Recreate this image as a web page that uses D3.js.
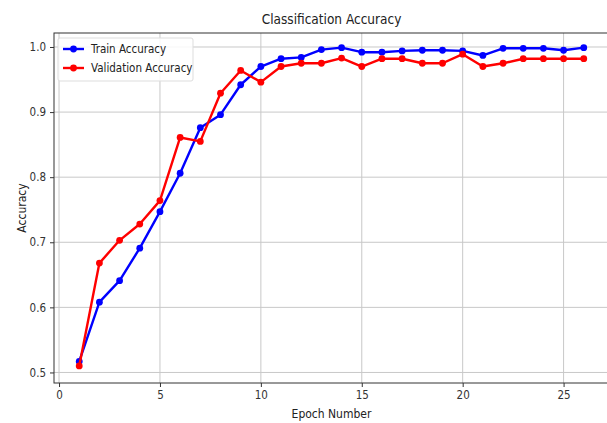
<!DOCTYPE html>
<html>
<head>
<meta charset="utf-8">
<script src="https://cdn.jsdelivr.net/npm/d3@7"></script>
<style>
  body { margin: 0; background: #fff; }
  svg { display: block; font-family: "DejaVu Sans Condensed", "DejaVu Sans", sans-serif; }
</style>
</head>
<body>
<div id="chart"></div>
<script>
// Data
const epochs = d3.range(1, 27);
const trainAcc = [0.517, 0.608, 0.641, 0.691, 0.747, 0.806, 0.876, 0.896, 0.942, 0.970,
                  0.982, 0.984, 0.996, 0.999, 0.992, 0.992, 0.994, 0.995, 0.995, 0.994,
                  0.987, 0.998, 0.998, 0.998, 0.995, 0.999];
const valAcc = [0.510, 0.668, 0.703, 0.728, 0.764, 0.861, 0.855, 0.929, 0.964, 0.946,
                0.970, 0.975, 0.975, 0.983, 0.970, 0.982, 0.982, 0.975, 0.975, 0.989,
                0.970, 0.975, 0.982, 0.982, 0.982, 0.982];
const xTicks = [0, 5, 10, 15, 20, 25];
const yTicks = [0.5, 0.6, 0.7, 0.8, 0.9, 1.0];

const width = 607, height = 423;
const margin = { top: 33, right: -2, bottom: 40, left: 54 };
const font = "DejaVu Sans Condensed, DejaVu Sans, sans-serif";

const svg = d3.select("#chart")
  .append("svg")
  .attr("width", width)
  .attr("height", height);

const x = d3.scaleLinear()
  .domain([-0.25, 27.25])
  .range([margin.left, width - margin.right]);

const y = d3.scaleLinear()
  .domain([0.4838, 1.0215])
  .range([height - margin.bottom, margin.top]);

// grid
svg.append("g")
  .selectAll("line")
  .data(xTicks)
  .join("line")
    .attr("x1", d => x(d)).attr("x2", d => x(d))
    .attr("y1", margin.top).attr("y2", height - margin.bottom)
    .attr("stroke", "#c8c8c8").attr("stroke-width", 1);

svg.append("g")
  .selectAll("line")
  .data(yTicks)
  .join("line")
    .attr("x1", margin.left).attr("x2", width - margin.right)
    .attr("y1", d => y(d)).attr("y2", d => y(d))
    .attr("stroke", "#c8c8c8").attr("stroke-width", 1);

// axes
const xAxis = svg.append("g")
  .attr("transform", `translate(0,${height - margin.bottom})`)
  .call(d3.axisBottom(x).tickValues(xTicks).tickSize(4).tickPadding(4).tickFormat(d3.format("d")));

const yAxis = svg.append("g")
  .attr("transform", `translate(${margin.left},0)`)
  .call(d3.axisLeft(y).tickValues(yTicks).tickSize(4).tickPadding(4).tickFormat(d3.format(".1f")));

[xAxis, yAxis].forEach(g => {
  g.select(".domain").remove();
  g.selectAll("line").attr("stroke", "#333");
  g.selectAll("text").attr("font-size", "11.5px").attr("fill", "#333")
    .attr("font-family", font);
});

// spines
svg.append("rect")
  .attr("x", margin.left).attr("y", margin.top)
  .attr("width", x.range()[1] - margin.left)
  .attr("height", height - margin.bottom - margin.top)
  .attr("fill", "none").attr("stroke", "#333").attr("stroke-width", 1);

// lines
const series = [
  { name: "Train Accuracy", values: trainAcc, color: "#0000ff" },
  { name: "Validation Accuracy", values: valAcc, color: "#ff0000" }
];

const line = d3.line()
  .x((d, i) => x(epochs[i]))
  .y(d => y(d));

series.forEach(s => {
  svg.append("path")
    .datum(s.values)
    .attr("fill", "none")
    .attr("stroke", s.color)
    .attr("stroke-width", 2.4)
    .attr("stroke-linejoin", "round")
    .attr("d", line);

  svg.append("g")
    .selectAll("circle")
    .data(s.values)
    .join("circle")
      .attr("cx", (d, i) => x(epochs[i]))
      .attr("cy", d => y(d))
      .attr("r", 3.4)
      .attr("fill", s.color);
});

// legend
const legend = svg.append("g").attr("transform", "translate(58,38)");
legend.append("rect")
  .attr("width", 135).attr("height", 43).attr("rx", 2)
  .attr("fill", "#fff").attr("fill-opacity", 0.85)
  .attr("stroke", "#ddd");

series.forEach((s, i) => {
  const gy = 11 + i * 19;
  legend.append("line")
    .attr("x1", 5).attr("x2", 26).attr("y1", gy).attr("y2", gy)
    .attr("stroke", s.color).attr("stroke-width", 2.4);
  legend.append("circle")
    .attr("cx", 15.5).attr("cy", gy).attr("r", 3.4).attr("fill", s.color);
  legend.append("text")
    .attr("x", 33).attr("y", gy).attr("dy", "0.35em")
    .attr("font-size", "11.5px").attr("fill", "#222")
    .text(s.name);
});

// title and axis labels
svg.append("text")
  .attr("x", (margin.left + x.range()[1]) / 2).attr("y", 24)
  .attr("text-anchor", "middle").attr("font-size", "13.5px").attr("fill", "#222")
  .text("Classification Accuracy");

svg.append("text")
  .attr("x", (margin.left + x.range()[1]) / 2).attr("y", 418)
  .attr("text-anchor", "middle").attr("font-size", "12px").attr("fill", "#222")
  .text("Epoch Number");

svg.append("text")
  .attr("transform", `translate(26,${(margin.top + height - margin.bottom) / 2}) rotate(-90)`)
  .attr("text-anchor", "middle").attr("font-size", "12px").attr("fill", "#222")
  .text("Accuracy");
</script>
</body>
</html>
